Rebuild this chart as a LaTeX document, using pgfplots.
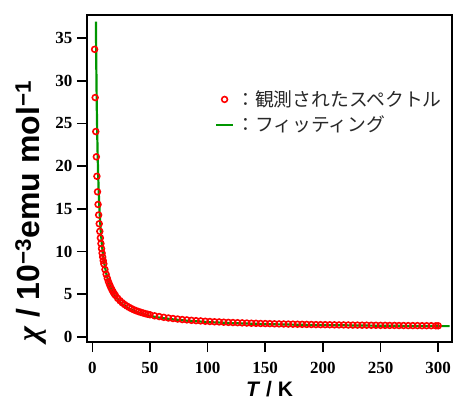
\documentclass[border=0pt]{standalone}
\usepackage{fontspec}
\usepackage{pgfplots}
\pgfplotsset{compat=1.18}
\setmainfont{Liberation Serif}
\setsansfont{Liberation Sans}
\newfontfamily\cjk{Noto Sans CJK JP}
\definecolor{fitgreen}{RGB}{0,150,0}
\definecolor{legtext}{RGB}{40,40,40}
\begin{document}
\begin{tikzpicture}
\begin{axis}[
  scale only axis, width=365pt, height=327pt,
  at={(0,0)}, anchor=south west,
  xmin=-4.6, xmax=312, ymin=-0.6, ymax=37.7,
  axis line style={line width=1.6pt},
  every tick/.style={line width=1.6pt, black},
  major tick length=10pt,
  tick align=outside,
  xtick pos=bottom, ytick pos=left,
  xtick={0,50,...,300}, ytick={0,5,...,35},
  minor tick num=0,
  /pgf/number format/assume math mode=true,
  tick label style={font=\bfseries\fontsize{17}{17}\selectfont},
  xticklabel style={yshift=-7pt},
  yticklabel style={xshift=-1pt},
  xlabel={\sffamily\bfseries\itshape T\/\upshape\ / K},
  xlabel style={font=\fontsize{21}{21}\selectfont, yshift=0pt},
  ylabel={{\rmfamily\bfseries\itshape χ}\sffamily\bfseries\ / 10\textsuperscript{−3}emu mol\textsuperscript{−1}},
  ylabel style={font=\sffamily\bfseries\fontsize{32}{32}\selectfont, at={(ticklabel cs:0.4)}, yshift=2pt},
  legend style={at={(0.35,0.775)}, anchor=north west, draw=none, fill=none,
    font=\cjk\fontsize{18.8}{18.8}\selectfont\color{legtext}, inner sep=0pt, row sep=4pt,
    nodes={inner sep=2pt}},
  legend cell align=left,
  clip=false,
]
\addplot[only marks, mark=o, mark size=2.9pt, red, mark options={line width=1.6pt}] coordinates {
(2,33.68)(2.5,28.03)(3,24.05)(3.5,21.09)(4,18.81)(4.5,16.99)(5,15.51)(5.5,14.28)
(6,13.25)(6.5,12.36)(7,11.59)(7.5,10.93)(8,10.34)(8.5,9.81)(9,9.35)(9.5,8.93)(10,8.55)
(11,7.89)(12,7.34)(13,6.87)(14,6.46)(15,6.11)(16,5.80)(17,5.53)(18,5.28)(19,5.06)(20,4.87)
(22,4.52)(24,4.24)(26,4.00)(28,3.79)(30,3.61)(32,3.45)(34,3.31)(36,3.18)(38,3.07)(40,2.97)
(42,2.88)(44,2.80)(46,2.72)(48,2.65)(50,2.59)
(54,2.47)(58,2.38)(62,2.29)(66,2.21)(70,2.15)(74,2.09)(78,2.03)(82,1.99)(86,1.94)(90,1.90)
(94,1.87)(98,1.83)(102,1.80)(106,1.77)(110,1.75)(114,1.72)(118,1.70)(122,1.68)(126,1.66)
(130,1.64)(134,1.62)(138,1.60)(142,1.59)(146,1.57)(150,1.56)(154,1.55)(158,1.53)(162,1.52)
(166,1.51)(170,1.50)(174,1.49)(178,1.48)(182,1.47)(186,1.46)(190,1.45)(194,1.44)(198,1.43)
(202,1.43)(206,1.42)(210,1.41)(214,1.40)(218,1.40)(222,1.39)(226,1.38)(230,1.38)(234,1.37)
(238,1.37)(242,1.36)(246,1.36)(250,1.35)(254,1.35)(258,1.34)(262,1.34)(266,1.33)(270,1.33)
(274,1.32)(278,1.32)(282,1.32)(286,1.31)(290,1.31)(294,1.31)(298,1.30)(300,1.30)
};
\addlegendentry{：観測されたスペクトル}
\addplot[fitgreen, line width=2.2pt, smooth, no marks] coordinates {
(3.15,36.93)(3.3,34.36)(3.5,31.46)(3.75,28.48)(4,26.03)(4.5,22.24)(5,19.45)(5.5,17.31)
(6,15.61)(7,13.10)(8,11.32)(9,10.00)(10,8.98)(12,7.51)(14,6.50)(16,5.76)(18,5.20)(20,4.75)
(25,3.97)(30,3.46)(35,3.10)(40,2.83)(50,2.46)(60,2.22)(70,2.05)(80,1.92)(100,1.74)
(120,1.62)(150,1.50)(180,1.42)(210,1.37)(240,1.32)(270,1.29)(300,1.26)(310,1.26)
};
\addlegendentry{：フィッティング}
\end{axis}
\pgfresetboundingbox
\path (-87pt,-58pt) rectangle (369pt,342pt);
\end{tikzpicture}
\end{document}
